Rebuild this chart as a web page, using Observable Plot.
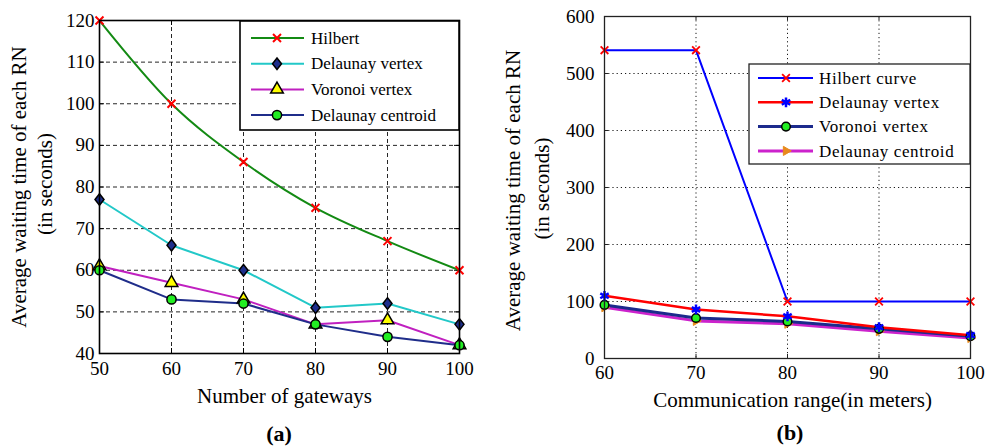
<!DOCTYPE html>
<html><head><meta charset="utf-8">
<script src="https://cdn.jsdelivr.net/npm/d3@7"></script>
<script src="https://cdn.jsdelivr.net/npm/@observablehq/plot@0.6"></script>
<style>
body{margin:0;background:#fff;}
#wrap{position:relative;width:985px;height:448px;overflow:hidden;font-family:"Liberation Serif","Times New Roman",serif;}
#wrap > svg{position:absolute;top:0;}
#wrap svg text{font-family:"Liberation Serif","Times New Roman",serif;}
.cap{position:absolute;font-weight:bold;font-size:22px;transform:translate(-50%,-50%);color:#000;}
</style></head><body><div id="wrap"></div>
<script>
// ---------- data: panel (a) ----------
const gatewaysX = [50, 60, 70, 80, 90, 100];
const aHilbert = [120, 100, 86, 75, 67, 60];
const aDelaunayVertex = [77, 66, 60, 51, 52, 47];
const aVoronoiVertex = [61, 57, 53, 47, 48, 42];
const aDelaunayCentroid = [60, 53, 52, 47, 44, 42];
const aYTicks = [40, 50, 60, 70, 80, 90, 100, 110, 120];
const aNames = ["Hilbert", "Delaunay vertex", "Voronoi vertex", "Delaunay centroid"];

// ---------- data: panel (b) ----------
const rangeX = [60, 70, 80, 90, 100];
const bHilbert = [541, 541, 100, 100, 100];
const bDelaunayVertex = [110, 86, 74, 55, 41];
const bVoronoiVertex = [94, 71, 65, 52, 39];
const bDelaunayCentroid = [90, 66, 61, 48, 36];
const bYTicks = [0, 100, 200, 300, 400, 500, 600];
const bNames = ["Hilbert curve", "Delaunay vertex", "Voronoi vertex", "Delaunay centroid"];

const FONT = '"Liberation Serif","Times New Roman",serif';

const diamondTall = {
  draw(ctx, size) {
    const r = Math.sqrt(size / Math.PI);
    const h = r * 1.15, w = r * 0.9;
    ctx.moveTo(0, -h); ctx.lineTo(w, 0); ctx.lineTo(0, h); ctx.lineTo(-w, 0); ctx.closePath();
  }
};
const symMap = {times: d3.symbolTimes, triangle: d3.symbolTriangle, circle: d3.symbolCircle, asterisk: d3.symbolAsterisk};

const stylesA = [
  {line: "#138a13", lw: 2, curve: "monotone-x", symbol: "times", fill: "none", mstroke: "#ff0000", msw: 2, r: 3.7},
  {line: "#22c8c8", lw: 2, curve: "linear", symbol: diamondTall, fill: "#1e2f8c", mstroke: "#000", msw: 1.5, r: 5},
  {line: "#c020c0", lw: 2, curve: "linear", symbol: "triangle", fill: "#ffff00", mstroke: "#000", msw: 1.5, r: 4.7},
  {line: "#1f2d8a", lw: 2, curve: "linear", symbol: "circle", fill: "#22ee22", mstroke: "#000", msw: 1.5, r: 4.6}
];
const stylesB = [
  {line: "#0000ff", lw: 2, curve: "linear", symbol: "times", fill: "none", mstroke: "#ff0000", msw: 1.8, r: 3.6},
  {line: "#ff0000", lw: 2.5, curve: "linear", symbol: "asterisk", fill: "none", mstroke: "#0000ff", msw: 2.5, r: 4.6},
  {line: "#1c2a8c", lw: 3, curve: "linear", symbol: "circle", fill: "#22ee22", mstroke: "#000", msw: 1.5, r: 4.3},
  {line: "#cc22cc", lw: 3, curve: "linear", symbol: "triangle", fill: "#e88a1c", mstroke: "#e88a1c", msw: 1, r: 3.4, rotate: 90}
];

function rows(xs, vals, name) { return xs.map((x, i) => ({x, y: vals[i], name})); }

function seriesMarks(xs, valueSets, names, styles, lineOrder) {
  const data = valueSets.map((v, i) => rows(xs, v, names[i]));
  const lines = lineOrder.map(i => Plot.line(data[i], {x: "x", y: "y", stroke: styles[i].line, strokeWidth: styles[i].lw, curve: styles[i].curve}));
  const dots = lineOrder.map(i => Plot.dot(data[i], {x: "x", y: "y", symbol: styles[i].symbol, r: styles[i].r, fill: styles[i].fill, stroke: styles[i].mstroke, strokeWidth: styles[i].msw, rotate: styles[i].rotate || 0}));
  return [...lines, ...dots];
}

// inward (Matlab-style) tick marks on all four sides of the frame
function innerTicks(xt, yt, fw, fh, len, stroke) {
  return [
    Plot.ruleX(xt, {insetTop: fh - len, stroke}),
    Plot.ruleX(xt, {insetBottom: fh - len, stroke}),
    Plot.ruleY(yt, {insetRight: fw - len, stroke}),
    Plot.ruleY(yt, {insetLeft: fw - len, stroke})
  ];
}

const wrap = document.getElementById("wrap");
const lbl = (t, o) => Plot.text([t], {textAnchor: "middle", lineAnchor: "middle", fontSize: 21, ...o});

// ---------- panel (a) ----------
const A = {w: 490, ml: 99, mr: 31, mt: 20, mb: 95};
const plotA = Plot.plot({
  width: A.w, height: 448,
  marginLeft: A.ml, marginRight: A.mr, marginTop: A.mt, marginBottom: A.mb,
  x: {domain: [50, 100]},
  y: {domain: [40, 120]},
  style: {fontFamily: FONT, fontSize: "19px", color: "#000", background: "transparent", overflow: "visible"},
  marks: [
    Plot.gridX(gatewaysX.slice(1, -1), {stroke: "#000", strokeOpacity: 0.85, strokeDasharray: "4,3"}),
    Plot.gridY(aYTicks.slice(1, -1), {stroke: "#000", strokeOpacity: 0.85, strokeDasharray: "4,3"}),
    ...innerTicks(gatewaysX, aYTicks, A.w - A.ml - A.mr, 448 - A.mt - A.mb, 5, "#000"),
    Plot.axisX(gatewaysX, {tickSize: 0, tickPadding: 8, label: null, fontSize: 19}),
    Plot.axisY(aYTicks, {tickSize: 0, tickPadding: 5, label: null, fontSize: 19}),
    lbl("Number of gateways", {frameAnchor: "bottom", dy: 43, dx: 5}),
    lbl("Average waiting time of each RN", {frameAnchor: "left", rotate: -90, dx: -80}),
    lbl("(in seconds)", {frameAnchor: "left", rotate: -90, dx: -54, dy: -3}),
    ...seriesMarks(gatewaysX, [aHilbert, aDelaunayVertex, aVoronoiVertex, aDelaunayCentroid], aNames, stylesA, [0, 1, 2, 3]),
    Plot.frame({stroke: "#000", strokeWidth: 1.6})
  ]
});
plotA.style.left = "0px";
wrap.appendChild(plotA);

// ---------- panel (b) ----------
const B = {w: 485, ml: 104, mr: 15, mt: 16, mb: 90};
const plotB = Plot.plot({
  width: B.w, height: 448,
  marginLeft: B.ml, marginRight: B.mr, marginTop: B.mt, marginBottom: B.mb,
  x: {domain: [60, 100]},
  y: {domain: [0, 600]},
  style: {fontFamily: FONT, fontSize: "19px", color: "#000", background: "transparent", overflow: "visible"},
  marks: [
    Plot.gridX(rangeX.slice(1, -1), {stroke: "#000", strokeOpacity: 0.9, strokeDasharray: "1.2,3"}),
    Plot.gridY(bYTicks.slice(1, -1), {stroke: "#000", strokeOpacity: 0.9, strokeDasharray: "1.2,3"}),
    ...innerTicks(rangeX, bYTicks, B.w - B.ml - B.mr, 448 - B.mt - B.mb, 4, "#222"),
    Plot.axisX(rangeX, {tickSize: 0, tickPadding: 7, label: null, fontSize: 19}),
    Plot.axisY(bYTicks, {tickSize: 0, tickPadding: 10, label: null, fontSize: 19}),
    lbl("Communication range(in meters)", {frameAnchor: "bottom", dy: 42, dx: 5, letterSpacing: 1}),
    lbl("Average waiting time of each RN", {frameAnchor: "left", rotate: -90, dx: -91, dy: 3, letterSpacing: 0.6}),
    lbl("(in seconds)", {frameAnchor: "left", rotate: -90, dx: -62, dy: 1, letterSpacing: 0.6}),
    ...seriesMarks(rangeX, [bHilbert, bDelaunayVertex, bVoronoiVertex, bDelaunayCentroid], bNames, stylesB, [3, 2, 1, 0]),
    Plot.frame({stroke: "#222", strokeWidth: 1.3})
  ]
});
plotB.style.left = "500px";
wrap.appendChild(plotB);

// ---------- legends ----------
function legend(left, top, w, h, names, styles, opt) {
  const svg = d3.create("svg").attr("width", w + 2).attr("height", h + 2)
    .style("position", "absolute").style("left", left + "px").style("top", top + "px")
    .style("font-family", FONT);
  svg.append("rect").attr("x", 1).attr("y", 1).attr("width", w).attr("height", h)
    .attr("fill", "#fff").attr("stroke", opt.border).attr("stroke-width", opt.bw);
  names.forEach((n, i) => {
    const s = styles[i];
    const cy = opt.y0 + i * opt.dy;
    svg.append("line").attr("x1", opt.lx1).attr("x2", opt.lx2).attr("y1", cy).attr("y2", cy)
      .attr("stroke", s.line).attr("stroke-width", s.lw);
    const type = typeof s.symbol === "string" ? symMap[s.symbol] : s.symbol;
    svg.append("path").attr("d", d3.symbol(type, Math.PI * s.r * s.r)())
      .attr("transform", `translate(${opt.mx},${cy}) rotate(${s.rotate || 0})`)
      .attr("fill", s.fill).attr("stroke", s.mstroke).attr("stroke-width", s.msw);
    svg.append("text").attr("x", opt.tx).attr("y", cy).attr("dy", "0.34em")
      .attr("font-size", opt.fs).attr("letter-spacing", opt.ls).text(n);
  });
  wrap.appendChild(svg.node());
}
legend(239, 20, 219, 109, aNames, stylesA, {border: "#000", bw: 1.6, y0: 18, dy: 25.7, lx1: 12, lx2: 65, mx: 38, tx: 72, fs: 17, ls: 0});
legend(748, 63, 221, 100, bNames, stylesB, {border: "#222", bw: 1.3, y0: 15, dy: 24.3, lx1: 10, lx2: 65, mx: 38, tx: 71, fs: 17, ls: 0.6});

// ---------- captions ----------
[["(a)", 279, 434], ["(b)", 790, 433]].forEach(([t, x, y]) => {
  const d = document.createElement("div");
  d.className = "cap"; d.textContent = t;
  d.style.left = x + "px"; d.style.top = y + "px";
  wrap.appendChild(d);
});
</script>
</body></html>
